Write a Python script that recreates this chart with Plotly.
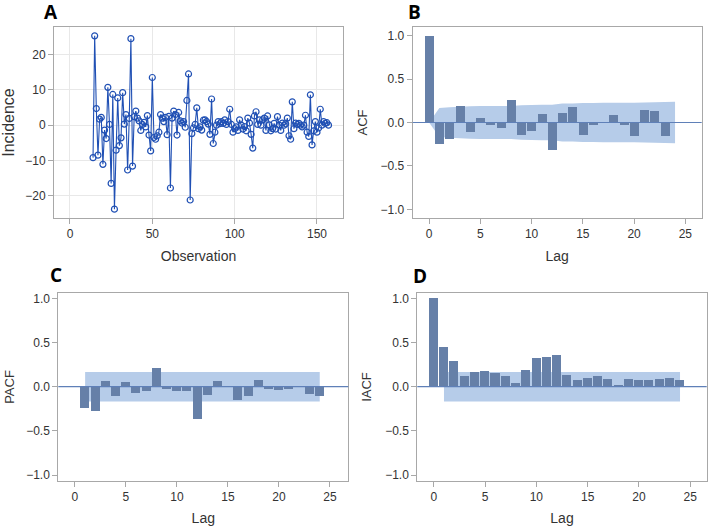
import plotly.graph_objects as go

# ---------------- data ----------------
obs_start = 14
incidence = [
    -9.2, 25.3, 4.7, -8.5, 1.7, 2.2, -11.1, -1.4, -3.8, 10.7,
    0.2, -16.5, 8.7, -23.8, -7.1, 7.7, -5.8, -3.6, 9.2, 0.3,
    3.0, -12.7, 1.9, 24.5, -11.6, 2.4, 4.0, 2.0, 1.2, -1.5,
    0.2, 0.8, -0.5, 2.7, -2.8, -7.3, 13.5, -3.5, -4.0, -3.0,
    -2.0, 3.0, 2.0, 1.0, 2.2, -2.7, 2.5, -17.8, 2.0, 4.0,
    3.0, -2.8, 3.6, 1.2, 0.6, 1.0, -0.6, 7.0, 14.5, -21.2,
    -2.4, -0.8, 0.2, 4.9, -1.0, -0.5, -1.4, 1.4, 1.5, 1.0,
    0.3, -2.6, 7.4, -5.2, -2.0, 0.0, 1.0, 0.4, 1.0, 0.5,
    1.5, 0.2, 1.0, 4.5, 0.2, -2.0, -1.0, -0.5, -1.5, 1.5,
    0.0, -1.1, -0.4, -1.6, 2.0, 0.6, -2.6, -6.5, 2.6, 3.8,
    0.2, 1.5, 0.0, 1.5, 2.0, -1.5, 2.6, 0.1, -1.6, -1.0,
    0.5, -1.1, 2.4, 0.0, -1.5, 0.6, 0.0, 0.4, 2.0, -3.0,
    -4.0, 6.6, -1.0, 0.6, 0.2, 0.5, 0.0, -0.5, 0.0, 2.8,
    -2.0, -3.2, 8.6, -5.6, -1.6, 1.0, -2.0, -0.8, 4.5, 0.0,
    1.0, 0.5, 0.7, 0.0,
]
observation = list(range(obs_start, obs_start + len(incidence)))

acf_lags = list(range(0, 24))
acf = [1.0, -0.25, -0.185, 0.185, -0.115, 0.054, -0.03, -0.062, 0.26, -0.14,
       -0.095, 0.096, -0.32, 0.11, 0.177, -0.146, -0.027, -0.005, 0.085, -0.03,
       -0.158, 0.146, 0.127, -0.158]
acf_band_lags = list(range(0, 25))
acf_band = [0.0, 0.167, 0.177, 0.182, 0.187, 0.189, 0.19, 0.19, 0.19, 0.2,
            0.203, 0.204, 0.205, 0.218, 0.22, 0.224, 0.226, 0.227, 0.227, 0.228,
            0.228, 0.231, 0.233, 0.235, 0.238]

pacf_lags = list(range(1, 25))
pacf = [-0.25, -0.275, 0.057, -0.113, 0.045, -0.075, -0.057, 0.21, -0.026, -0.049,
        -0.049, -0.366, -0.098, 0.057, -0.006, -0.151, -0.106, 0.075, -0.026, -0.04,
        -0.03, -0.005, -0.083, -0.113]

iacf_lags = list(range(0, 25))
iacf = [1.0, 0.445, 0.29, 0.12, 0.162, 0.177, 0.147, 0.12, 0.04, 0.18,
        0.317, 0.328, 0.358, 0.132, 0.068, 0.1, 0.12, 0.087, 0.019, 0.083,
        0.072, 0.072, 0.083, 0.098, 0.068]

band_lags = [1, 24]
band_se = [0.167, 0.167]

lag_ticks = [0, 5, 10, 15, 20, 25]
cf_ticks = [-1.0, -0.5, 0.0, 0.5, 1.0]
inc_ticks = [-20, -10, 0, 10, 20]
obs_ticks = [0, 50, 100, 150]

# ---------------- style ----------------
W, H = 709, 528
FONT = "Liberation Sans, Arial, sans-serif"
BAR = "#6680a8"
BAND = "#b6cce9"
REF = "#5f80b8"
LINE = "#2050b4"
FRAME = "#a8a8a8"
TXT = "#333333"

def px(x0, x1):
    return [x0 / W, x1 / W]

def py(top, bottom):
    return [1 - bottom / H, 1 - top / H]

fig = go.Figure()

# Panel A
fig.add_trace(go.Scatter(
    x=observation, y=incidence, mode="lines+markers",
    line=dict(color=LINE, width=1.1),
    marker=dict(symbol="circle-open", size=6, color=LINE, line=dict(width=1.2)),
    xaxis="x", yaxis="y", showlegend=False))

# bars
fig.add_trace(go.Bar(x=acf_lags, y=acf, width=0.88, marker=dict(color=BAR, line=dict(width=0)),
                     xaxis="x2", yaxis="y2", showlegend=False))
fig.add_trace(go.Bar(x=pacf_lags, y=pacf, width=0.88, marker=dict(color=BAR, line=dict(width=0)),
                     xaxis="x3", yaxis="y3", showlegend=False))
fig.add_trace(go.Bar(x=iacf_lags, y=iacf, width=0.88, marker=dict(color=BAR, line=dict(width=0)),
                     xaxis="x4", yaxis="y4", showlegend=False))

# confidence bands as shapes drawn beneath the bars
def band_path(lags, se):
    pts = [(x, v) for x, v in zip(lags, se)] + [(x, -v) for x, v in zip(lags[::-1], se[::-1])]
    return "M " + " L ".join(f"{x},{y}" for x, y in pts) + " Z"

for xa, ya, lags, se in [("x2", "y2", acf_band_lags, acf_band),
                         ("x3", "y3", band_lags, band_se),
                         ("x4", "y4", band_lags, band_se)]:
    fig.add_shape(type="path", path=band_path(lags, se), xref=xa, yref=ya,
                  fillcolor=BAND, line=dict(width=0), layer="below")

def xaxis(domain, anchor, rng, ticks, title, grid=False):
    return dict(domain=domain, anchor=anchor, range=rng, tickvals=ticks, automargin=False,
                showline=True, linecolor=FRAME, linewidth=1, mirror=True,
                ticks="outside", ticklen=5, tickcolor=FRAME,
                showgrid=grid, gridcolor="#e8e8e8", zeroline=False,
                tickfont=dict(size=12, color=TXT, family=FONT),
                title=dict(text=title, font=dict(size=14, color=TXT, family=FONT), standoff=10))

def yaxis(domain, anchor, rng, ticks, title, fmt=None, grid=False, tsize=13, standoff=10):
    d = dict(domain=domain, anchor=anchor, range=rng, tickvals=ticks, automargin=False,
             showline=True, linecolor=FRAME, linewidth=1, mirror=True,
             ticks="outside", ticklen=5, tickcolor=FRAME,
             showgrid=grid, gridcolor="#e8e8e8", zeroline=False,
             tickfont=dict(size=12, color=TXT, family=FONT),
             title=dict(text=title, font=dict(size=tsize, color=TXT, family=FONT), standoff=standoff))
    if fmt:
        d["tickformat"] = fmt
    return d

yA = py(27, 218)
yC = py(293.3, 480.7)

fig.update_layout(
    width=W, height=H, margin=dict(l=0, r=0, t=0, b=0),
    paper_bgcolor="white", plot_bgcolor="white",
    font=dict(family=FONT, color=TXT),
    bargap=0,
    xaxis=xaxis(px(54, 343), "y", [-9.7, 165.8], obs_ticks, "Observation", grid=True),
    yaxis=yaxis(yA, "x", [-26.3, 27.8], inc_ticks, "Incidence", grid=True, tsize=16, standoff=10),
    xaxis2=xaxis(px(412.7, 701.7), "y2", [-1.6, 26.6], lag_ticks, "Lag"),
    yaxis2=yaxis(yA, "x2", [-1.1, 1.1], cf_ticks, "ACF", fmt=".1f"),
    xaxis3=xaxis(px(58.3, 348.3), "y3", [-1.63, 26.8], lag_ticks, "Lag"),
    yaxis3=yaxis(yC, "x3", [-1.064, 1.057], cf_ticks, "PACF", fmt=".1f", standoff=8),
    xaxis4=xaxis(px(417.3, 706.7), "y4", [-1.6, 26.6], lag_ticks, "Lag"),
    yaxis4=yaxis(yC, "x4", [-1.064, 1.057], cf_ticks, "IACF", fmt=".1f"),
)

# zero reference lines in correlation panels
for xa, ya in [("x2", "y2"), ("x3", "y3"), ("x4", "y4")]:
    fig.add_shape(type="line", xref=f"{xa} domain", yref=ya, x0=0, x1=1, y0=0, y1=0,
                  line=dict(color=REF, width=1.2), layer="above")

# panel letters
for letter, x, y in [("A", 51, 12), ("B", 414, 12), ("C", 56, 275), ("D", 420, 276)]:
    fig.add_annotation(text=f"<b>{letter}</b>", x=x / W, y=1 - y / H, xref="paper", yref="paper",
                       showarrow=False, xanchor="center", yanchor="middle",
                       font=dict(size=19, color="black", family="Open Sans, Liberation Sans, Arial"))

fig.write_html("out.html", config={"displayModeBar": False},
               post_script="document.body.style.margin='0';")
